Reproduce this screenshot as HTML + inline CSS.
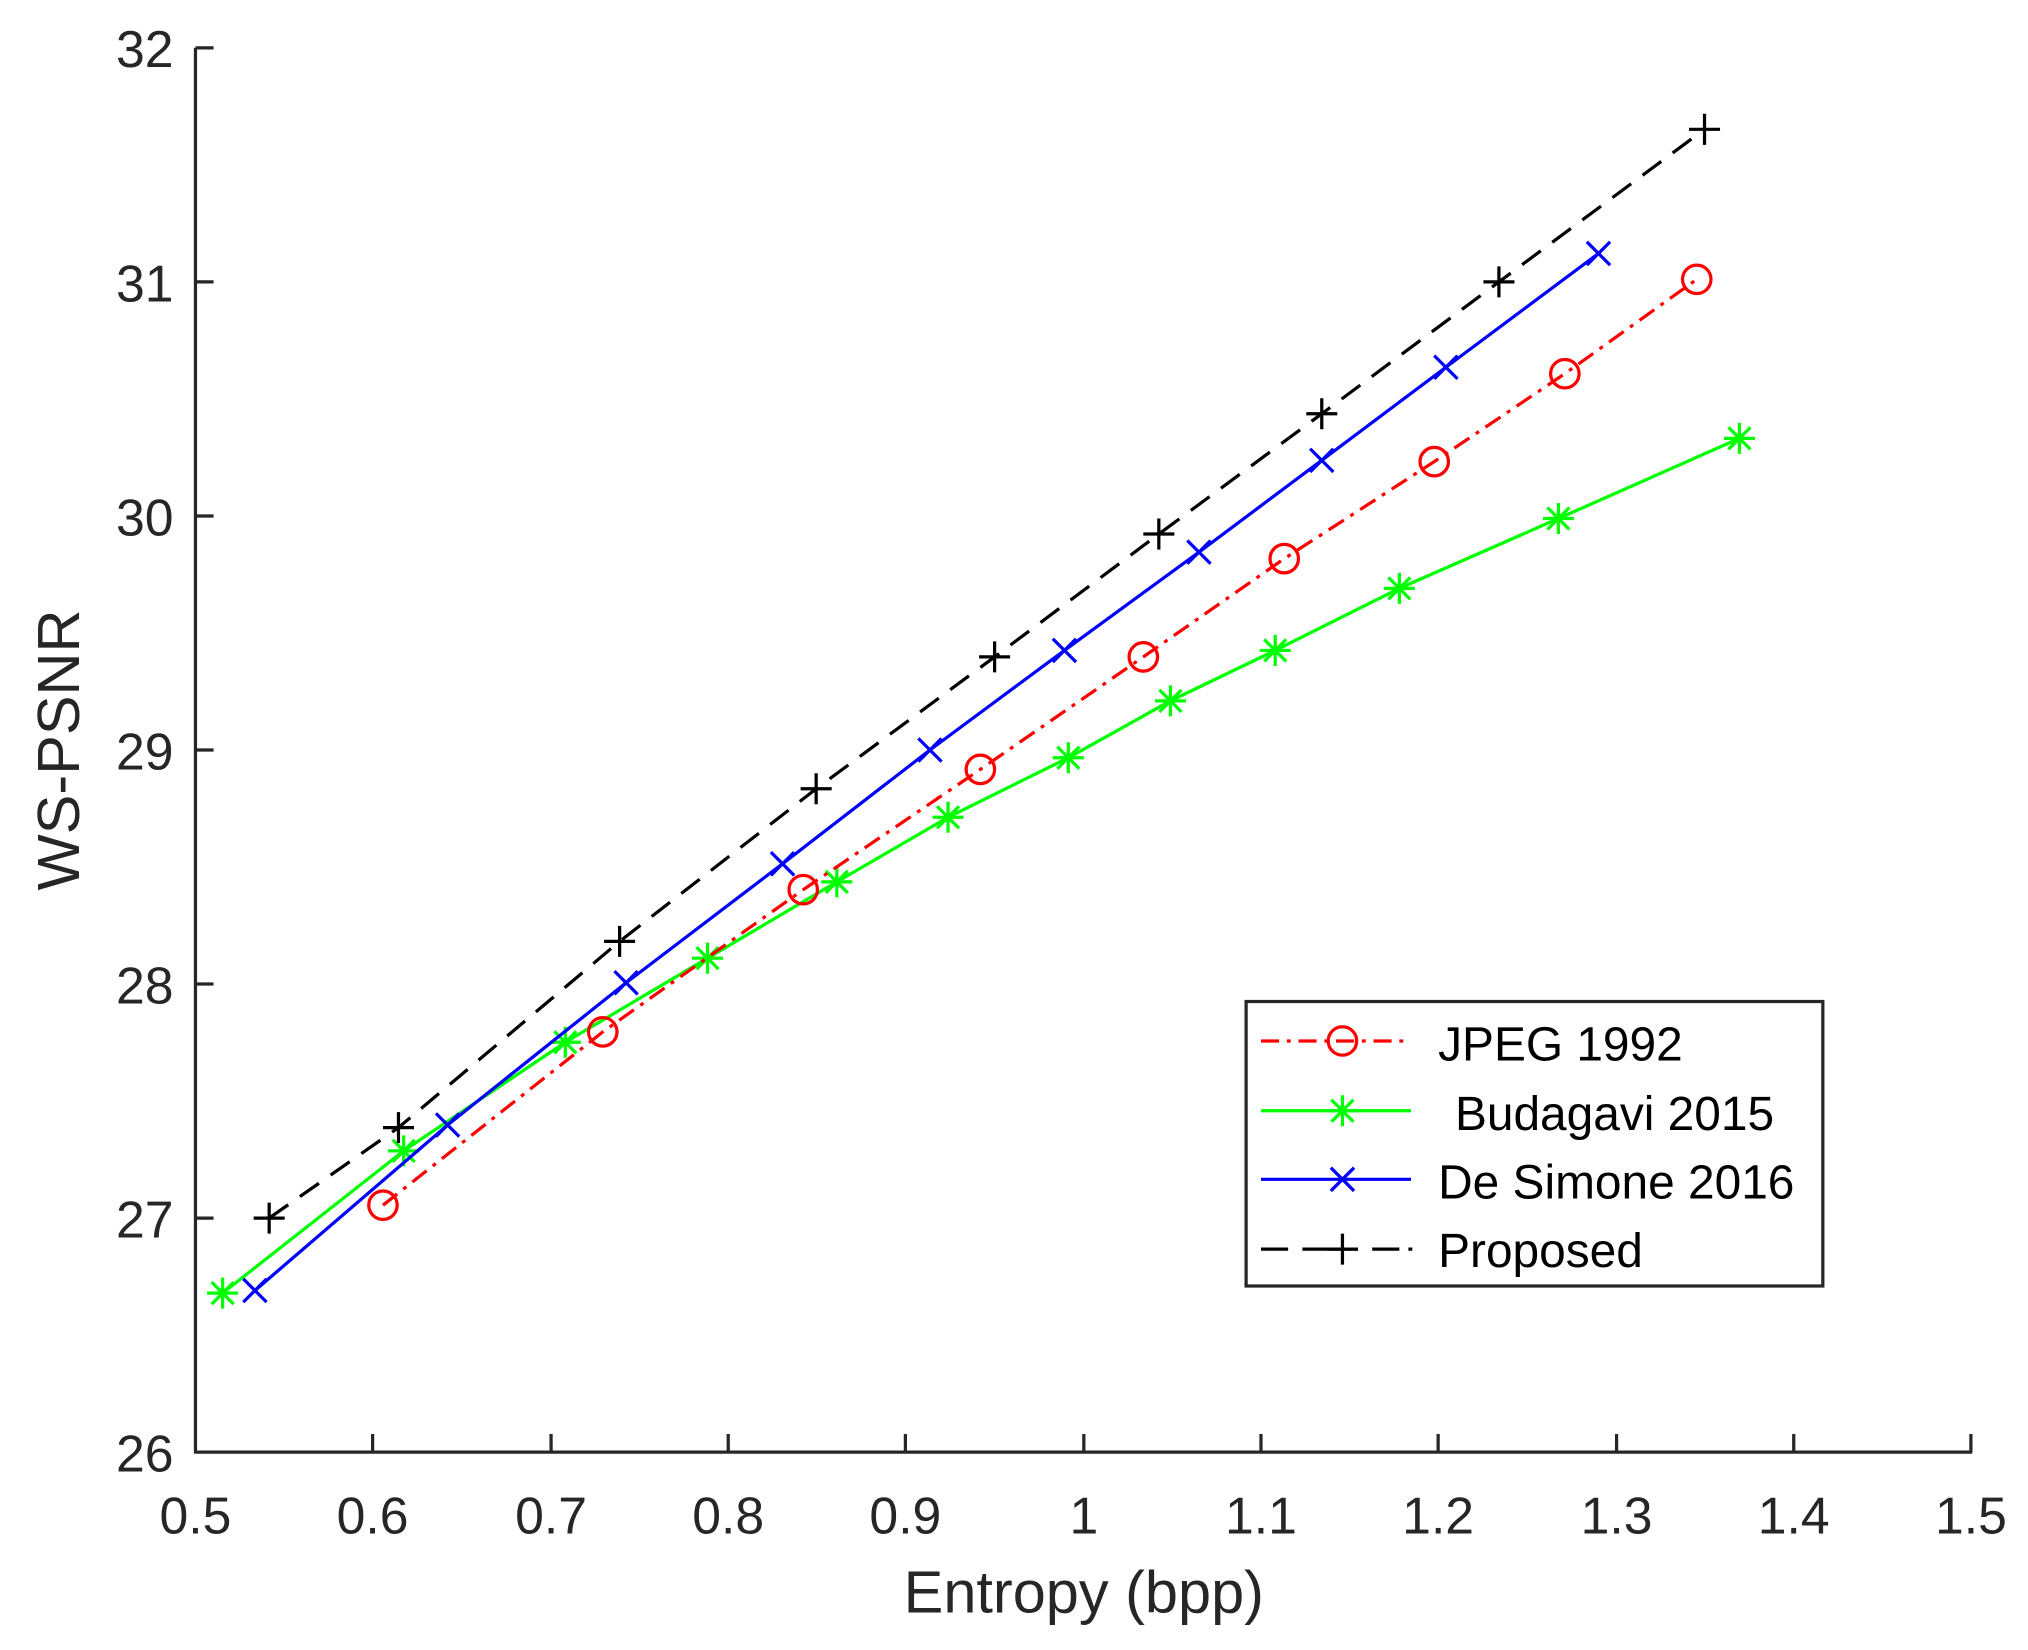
<!DOCTYPE html>
<html><head><meta charset="utf-8"><style>html,body{margin:0;padding:0;background:#fff}svg{display:block}</style></head><body>
<svg width="2028" height="1650" viewBox="0 0 1568 1276" xmlns="http://www.w3.org/2000/svg" font-family="Liberation Sans, sans-serif">
<rect width="1568" height="1276" fill="#fff"/>
<g stroke="#262626" stroke-width="2.5" fill="none">
<line x1="151" y1="37" x2="151" y2="1124"/>
<line x1="150" y1="1123" x2="1525" y2="1123"/>
<path d="M288 1123v-14M426 1123v-14M563 1123v-14M700 1123v-14M838 1123v-14M975 1123v-14M1112 1123v-14M1250 1123v-14M1387 1123v-14M1524 1123v-14"/>
<path d="M151 37h14M151 218h14M151 399h14M151 580h14M151 761h14M151 942h14"/>
</g>
<g fill="#262626" font-size="40" text-anchor="middle">
<text x="151" y="1186">0.5</text><text x="288" y="1186">0.6</text><text x="426" y="1186">0.7</text><text x="563" y="1186">0.8</text><text x="700" y="1186">0.9</text><text x="838" y="1186">1</text><text x="975" y="1186">1.1</text><text x="1112" y="1186">1.2</text><text x="1250" y="1186">1.3</text><text x="1387" y="1186">1.4</text><text x="1524" y="1186">1.5</text>
</g>
<g fill="#262626" font-size="40" text-anchor="end">
<text x="134" y="52">32</text><text x="134" y="233">31</text><text x="134" y="414">30</text><text x="134" y="595">29</text><text x="134" y="776">28</text><text x="134" y="957">27</text><text x="134" y="1138">26</text>
</g>
<text x="838" y="1247" font-size="46" fill="#262626" text-anchor="middle">Entropy (bpp)</text>
<text transform="translate(61,580) rotate(-90)" font-size="46" fill="#262626" text-anchor="middle">WS-PSNR</text>

<defs>
<path id="st" d="M-12 0h24M0-12v24M-8.5-8.5l17 17M-8.5 8.5l17-17"/>
<path id="xx" d="M-9-9l18 18M-9 9l18-18"/>
<path id="pl" d="M-12 0h24M0-12v24"/>
</defs>
<!-- Green -->
<polyline fill="none" stroke="#00ff00" stroke-width="2.5" points="172,1000 312,890 437,806 547,741 647,682 733,632 826,586 905,542 986,503 1082,455 1205,401 1345,339"/>
<g stroke="#00ff00" stroke-width="2.5">
<use href="#st" x="172" y="1000"/><use href="#st" x="312" y="890"/><use href="#st" x="437" y="806"/><use href="#st" x="547" y="741"/><use href="#st" x="647" y="682"/><use href="#st" x="733" y="632"/><use href="#st" x="826" y="586"/><use href="#st" x="905" y="542"/><use href="#st" x="986" y="503"/><use href="#st" x="1082" y="455"/><use href="#st" x="1205" y="401"/><use href="#st" x="1345" y="339"/>
</g>
<!-- Red -->
<polyline fill="none" stroke="#ff0000" stroke-width="2.5" stroke-dasharray="14,6,3,6" points="296,932 466,798 621,688 758,595 884,508 993,432 1109,357 1210,289 1312,216"/>
<g stroke="#ff0000" stroke-width="2.5" fill="none">
<circle cx="296" cy="932" r="11"/><circle cx="466" cy="798" r="11"/><circle cx="621" cy="688" r="11"/><circle cx="758" cy="595" r="11"/><circle cx="884" cy="508" r="11"/><circle cx="993" cy="432" r="11"/><circle cx="1109" cy="357" r="11"/><circle cx="1210" cy="289" r="11"/><circle cx="1312" cy="216" r="11"/>
</g>
<!-- Blue -->
<polyline fill="none" stroke="#0000ff" stroke-width="2.5" points="197,998 346,870 484,760 605,668 719,580 823,503 927,427 1022,356 1118,284 1236,196"/>
<g stroke="#0000ff" stroke-width="2.5">
<use href="#xx" x="197" y="998"/><use href="#xx" x="346" y="870"/><use href="#xx" x="484" y="760"/><use href="#xx" x="605" y="668"/><use href="#xx" x="719" y="580"/><use href="#xx" x="823" y="503"/><use href="#xx" x="927" y="427"/><use href="#xx" x="1022" y="356"/><use href="#xx" x="1118" y="284"/><use href="#xx" x="1236" y="196"/>
</g>
<!-- Black -->
<polyline fill="none" stroke="#000" stroke-width="2.5" stroke-dasharray="18,11" points="208,942 308,872 479,728 631,610 769,508 896,413 1022,320 1159,218 1318,100"/>
<g stroke="#000" stroke-width="2.5">
<use href="#pl" x="208" y="942"/><use href="#pl" x="308" y="872"/><use href="#pl" x="479" y="728"/><use href="#pl" x="631" y="610"/><use href="#pl" x="769" y="508"/><use href="#pl" x="896" y="413"/><use href="#pl" x="1022" y="320"/><use href="#pl" x="1159" y="218"/><use href="#pl" x="1318" y="100"/>
</g>
<!-- Legend -->
<rect x="963.5" y="774.5" width="446" height="220" fill="#fff" stroke="#262626" stroke-width="2.5"/>
<g stroke-width="2.5">
<line x1="975" y1="805" x2="1091" y2="805" stroke="#ff0000" stroke-dasharray="14,6,3,6"/>
<circle cx="1038" cy="805" r="11" stroke="#ff0000" fill="none"/>
<line x1="975" y1="859" x2="1091" y2="859" stroke="#00ff00"/>
<use href="#st" x="1038" y="859" stroke="#00ff00"/>
<line x1="975" y1="912" x2="1091" y2="912" stroke="#0000ff"/>
<use href="#xx" x="1038" y="912" stroke="#0000ff"/>
<path d="M975 966h21M1007 966h43M1061 966h21M1089 966h3" stroke="#000"/>
<use href="#pl" x="1038" y="966" stroke="#000"/>
</g>
<g font-size="37" fill="#000">
<text x="1112" y="820">JPEG 1992</text>
<text x="1125" y="874">Budagavi 2015</text>
<text x="1112" y="927">De Simone 2016</text>
<text x="1112" y="980">Proposed</text>
</g>
</svg>
</body></html>
